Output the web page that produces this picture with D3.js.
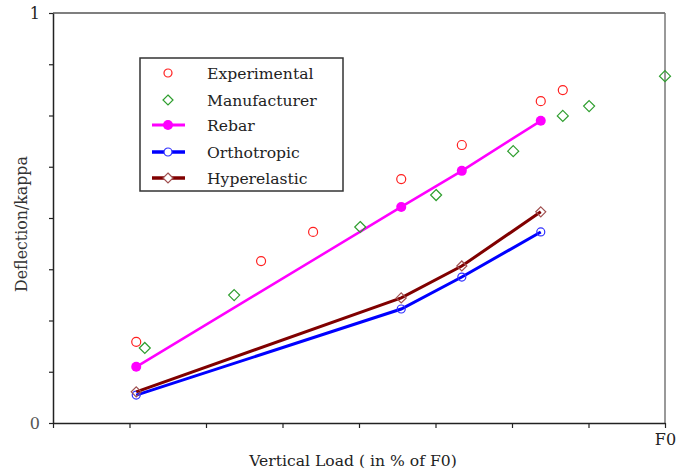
<!DOCTYPE html>
<html>
<head>
<meta charset="utf-8">
<script src="https://cdn.jsdelivr.net/npm/d3@7"></script>
<style>
  body { margin: 0; background: #fff; }
  text { font-family: "DejaVu Serif", "Liberation Serif", serif; }
</style>
</head>
<body>
<div id="chart"></div>
<script>
// values (x as fraction of F0)
var expX = [0.136, 0.340, 0.425, 0.569, 0.668, 0.797, 0.833];
var expY = [0.198, 0.395, 0.466, 0.595, 0.678, 0.785, 0.812];
var manX = [0.150, 0.296, 0.502, 0.626, 0.752, 0.833, 0.876, 1.0];
var manY = [0.183, 0.312, 0.478, 0.556, 0.663, 0.749, 0.773, 0.846];
var modelX = [0.136, 0.569, 0.668, 0.797];
var rebarY = [0.137, 0.527, 0.615, 0.737];
var orthoY = [0.068, 0.278, 0.356, 0.466];
var hyperY = [0.076, 0.305, 0.383, 0.515];
var tickVals = [0, 0.125, 0.25, 0.375, 0.5, 0.625, 0.75, 0.875, 1];
var legendNames = ["Experimental", "Manufacturer", "Rebar", "Orthotropic", "Hyperelastic"];

var mrg = { top: 13, right: 13, bottom: 50, left: 53 },
    svgWidth = 678 - mrg.left - mrg.right,
    svgHeight = 473 - mrg.top - mrg.bottom;

var svg = d3.select("#chart")
  .append("svg")
  .attr("width", 678)
  .attr("height", 473);
var chart = svg.append("g")
  .attr("transform", `translate(${mrg.left}, ${mrg.top})`);

var xScale = d3.scaleLinear().domain([0, 1]).range([0, svgWidth]);
var yScale = d3.scaleLinear().domain([0, 1]).range([svgHeight, 0]);

// frame: top & right in grey
chart.append("line").attr("x1", 0).attr("x2", svgWidth).attr("y1", 0).attr("y2", 0)
  .attr("stroke", "#555").attr("stroke-width", 1.5);
chart.append("line").attr("x1", svgWidth).attr("x2", svgWidth).attr("y1", 0).attr("y2", svgHeight)
  .attr("stroke", "#777").attr("stroke-width", 1.5);

var x_axis = d3.axisBottom(xScale).tickValues(tickVals).tickSize(5).tickSizeOuter(0).tickPadding(6)
  .tickFormat(function (d) { return d === 1 ? "F0" : ""; });
var y_axis = d3.axisLeft(yScale).tickValues(tickVals).tickSize(4).tickSizeOuter(0).tickPadding(9)
  .tickFormat(function (d) { return d === 0 ? "0" : d === 1 ? "1" : ""; });

var gx = chart.append("g")
  .attr("transform", `translate(0, ${svgHeight})`)
  .call(x_axis);
var gy = chart.append("g").call(y_axis);
[gx, gy].forEach(function (g) {
  g.select(".domain").attr("stroke", "#222").attr("stroke-width", 1.5);
  g.selectAll(".tick line").attr("stroke", "#222").attr("stroke-width", 1.2);
  g.selectAll(".tick text").attr("font-size", 16).attr("fill", "#222")
    .style("font-family", "'DejaVu Serif', serif");
});
gy.selectAll(".tick text").filter(function (d) { return d === 0; }).attr("fill", "#555");

// axis titles
svg.append("text")
  .attr("x", 353).attr("y", 466)
  .attr("text-anchor", "middle")
  .attr("font-size", 15.6).attr("fill", "#222")
  .text("Vertical Load ( in % of F0)");
svg.append("text")
  .attr("transform", "translate(27, 224) rotate(-90)")
  .attr("text-anchor", "middle")
  .attr("font-size", 15.8).attr("fill", "#333")
  .text("Deflection/kappa");

function pts(xs, ys) { return xs.map(function (x, i) { return [x, ys[i]]; }); }
var line = d3.line()
  .x(function (d) { return xScale(d[0]); })
  .y(function (d) { return yScale(d[1]); });

function diamond(sel, r) {
  return sel.attr("d", "M0," + (-r) + "L" + r + ",0L0," + r + "L" + (-r) + ",0Z");
}

// model lines
var series = [
  { ys: rebarY, color: "#ff00ff", w: 2.5, mark: "fill" },
  { ys: orthoY, color: "#0000ff", w: 3, mark: "circle", mc: "#3030ff" },
  { ys: hyperY, color: "#800000", w: 3, mark: "diamond", mc: "#a05050" }
];
series.forEach(function (s) {
  var data = pts(modelX, s.ys);
  chart.append("path").datum(data)
    .attr("fill", "none").attr("stroke", s.color).attr("stroke-width", s.w)
    .attr("d", line);
  var g = chart.append("g");
  if (s.mark === "fill") {
    g.selectAll("circle").data(data).enter().append("circle")
      .attr("cx", function (d) { return xScale(d[0]); })
      .attr("cy", function (d) { return yScale(d[1]); })
      .attr("r", 5).attr("fill", s.color);
  } else if (s.mark === "circle") {
    g.selectAll("circle").data(data).enter().append("circle")
      .attr("cx", function (d) { return xScale(d[0]); })
      .attr("cy", function (d) { return yScale(d[1]); })
      .attr("r", 4).attr("fill", "none").attr("stroke", s.mc).attr("stroke-width", 1.2);
  } else {
    g.selectAll("path").data(data).enter().append("path")
      .attr("transform", function (d) { return `translate(${xScale(d[0])}, ${yScale(d[1])})`; })
      .call(diamond, 5).attr("fill", "none").attr("stroke", s.mc).attr("stroke-width", 1.2);
  }
});

// experimental points
chart.append("g").selectAll("circle").data(pts(expX, expY)).enter().append("circle")
  .attr("cx", function (d) { return xScale(d[0]); })
  .attr("cy", function (d) { return yScale(d[1]); })
  .attr("r", 4.5).attr("fill", "none").attr("stroke", "#ff2020").attr("stroke-width", 1.2);

// manufacturer points
chart.append("g").selectAll("path").data(pts(manX, manY)).enter().append("path")
  .attr("transform", function (d) { return `translate(${xScale(d[0])}, ${yScale(d[1])})`; })
  .call(diamond, 5.5).attr("fill", "none").attr("stroke", "#2e9e2e").attr("stroke-width", 1.2);

// legend
var lg = svg.append("g").attr("transform", "translate(140, 58)");
lg.append("rect").attr("width", 203).attr("height", 133)
  .attr("fill", "#fff").attr("stroke", "#333").attr("stroke-width", 1.5);
var rowY = [15, 42, 67, 94, 120];
legendNames.forEach(function (name, i) {
  var row = lg.append("g").attr("transform", `translate(0, ${rowY[i]})`);
  if (i === 0) {
    row.append("circle").attr("cx", 28).attr("cy", 0).attr("r", 4)
      .attr("fill", "none").attr("stroke", "#ff2020").attr("stroke-width", 1.2);
  } else if (i === 1) {
    row.append("path").attr("transform", "translate(28,0)").call(diamond, 5)
      .attr("fill", "none").attr("stroke", "#2e9e2e").attr("stroke-width", 1.2);
  } else {
    var s = series[i - 2];
    row.append("line").attr("x1", 12).attr("x2", 45).attr("y1", 0).attr("y2", 0)
      .attr("stroke", s.color).attr("stroke-width", s.w + 0.5);
    if (s.mark === "fill") {
      row.append("circle").attr("cx", 28).attr("r", 5).attr("fill", s.color);
    } else if (s.mark === "circle") {
      row.append("circle").attr("cx", 28).attr("r", 4)
        .attr("fill", "#fff").attr("stroke", s.mc).attr("stroke-width", 1.2);
    } else {
      row.append("path").attr("transform", "translate(28,0)").call(diamond, 5)
        .attr("fill", "#fff").attr("stroke", s.mc).attr("stroke-width", 1.2);
    }
  }
  row.append("text").attr("x", 67).attr("y", 5.5)
    .attr("font-size", 15.6).attr("fill", "#222")
    .text(name);
});
</script>
</body>
</html>
